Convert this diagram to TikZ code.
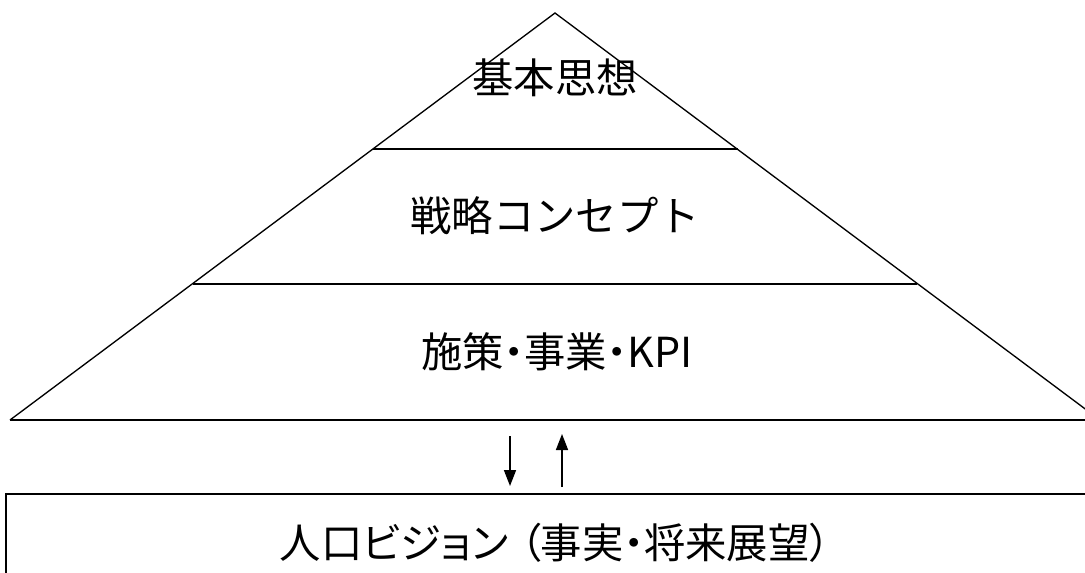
\documentclass[tikz,border=0pt]{standalone}
\usepackage{fontspec}
\setmainfont{Noto Sans CJK JP}
\newfontfamily\proptext[RawFeature=+palt]{Noto Sans CJK JP}
\usetikzlibrary{arrows.meta}
\begin{document}
\begin{tikzpicture}[x=0.75pt,y=-0.75pt,
  thin line/.style={line width=1pt,black},
  thick line/.style={line width=1.8pt,black},
  label/.style={font=\fontsize{31pt}{36pt}\selectfont,inner sep=0pt,anchor=center},
  prop label/.style={label,font=\proptext\fontsize{31pt}{36pt}\selectfont},
  flow/.style={line width=1.2pt,-{Triangle[length=12pt,width=9pt]}}]
\useasboundingbox (0,0) rectangle (1085,572);
\begin{scope}
\clip (0,0) rectangle (1085,572);
% pyramid
\coordinate (apex) at (555,13);
\coordinate (bl) at (10,420);
\coordinate (br) at (1085,420);
\draw[thin line] (bl) -- (apex) -- (1100,420);
\draw[thick line] (bl) -- (br);
\draw[thin line] (373,149) -- (738,149);
\draw[thin line] (193,284) -- (917,284);
% bottom box
\draw[thick line] (6,640) -- (6,494) -- (1100,494);
% texts
\node[label] (t1) at (555,78) {基本思想};
\node[label] (t2) at (555,216) {戦略コンセプト};
\node[prop label] (t3) at (557,352) {施策・事業・KPI};
\node[prop label] (t4) at (555,543) {人口ビジョン\hspace{9pt}（事実・将来展望）};
% arrows
\coordinate (d1) at (510,436);
\coordinate (d2) at (510,486);
\coordinate (u1) at (562,487);
\coordinate (u2) at (562,434);
\draw[flow] (d1) -- (d2);
\draw[flow] (u1) -- (u2);
\end{scope}
\end{tikzpicture}
\end{document}
